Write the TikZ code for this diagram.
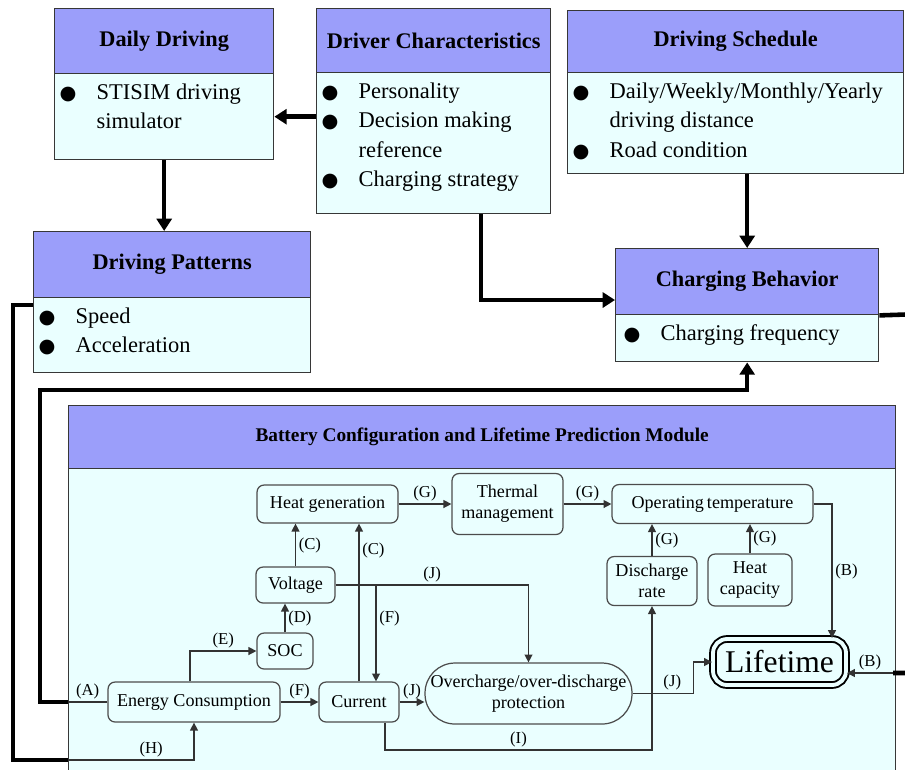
\documentclass[tikz,border=0pt]{standalone}
\usepackage{fontspec}
\setmainfont{Liberation Serif}
\newfontfamily\symfont{DejaVu Sans}
\usepackage{tikz}
\usetikzlibrary{arrows.meta}
\definecolor{headblue}{RGB}{155,158,250}
\definecolor{bodycyan}{RGB}{234,255,255}
\definecolor{edgegray}{RGB}{55,55,55}
\newcommand{\bul}{\makebox[0.74cm][l]{\symfont\fontsize{11}{11}\selectfont ●}}
\newcommand{\ind}{\hspace*{0.74cm}}
\newcommand{\bodylist}[3]{\parbox[t][#2][t]{#1}{\fontsize{12.8}{16.7}\selectfont\rule{0pt}{14.7pt}#3}}

\begin{document}
\begin{tikzpicture}[x={(0.02cm,0)}, y={(0,-0.02cm)},
    headbox/.style={draw=edgegray, line width=0.8pt, fill=headblue, inner sep=0pt,
        font=\fontsize{12.7}{15}\selectfont\bfseries},
    bodybox/.style={draw=edgegray, line width=0.8pt, fill=bodycyan, inner xsep=0.1cm, inner ysep=0pt},
    blk/.style={draw=black!70, line width=0.7pt, fill=bodycyan, rounded corners=4pt, align=center,
        inner sep=1pt, font=\fontsize{10.3}{12}\selectfont},
    lbl/.style={font=\fontsize{9.5}{11}\selectfont, inner sep=1.5pt},
    wire/.style={draw=black!80, line width=0.75pt},
    arr/.style={wire, -{Triangle[length=4.5pt,width=4.5pt]}},
    fatline/.style={draw=black, line width=2.6pt},
    fat/.style={fatline, -{Triangle[length=7pt,width=8.5pt]}}]
    \useasboundingbox (0,0) rectangle (905,769);

    % Upper boxes
    \node[headbox, minimum width=4.38cm, minimum height=1.30cm, anchor=north west] (ddh) at (54,8) {Daily Driving};
    \node[bodybox, anchor=north west] (ddb) at (54,73) {\bodylist{4.18cm}{1.72cm}{\bul STISIM driving\\\ind simulator}};

    \node[headbox, minimum width=4.68cm, minimum height=1.28cm, anchor=north west] (dch) at (316,8) {Driver Characteristics};
    \node[bodybox, anchor=north west] (dcb) at (316,72) {\bodylist{4.48cm}{2.82cm}{\bul Personality\\\bul Decision making\\\ind reference\\\bul Charging strategy}};

    \node[headbox, minimum width=6.72cm, minimum height=1.24cm, anchor=north west] (dsh) at (567,10) {Driving Schedule};
    \node[bodybox, anchor=north west] (dsb) at (567,72) {\bodylist{6.52cm}{2.02cm}{\bul Daily/Weekly/Monthly/Yearly\\\ind driving distance\\\bul Road condition}};

    \node[headbox, minimum width=5.54cm, minimum height=1.32cm, anchor=north west] (dph) at (33,231) {Driving Patterns};
    \node[bodybox, anchor=north west] (dpb) at (33,297) {\bodylist{5.34cm}{1.5cm}{\bul Speed\\\bul Acceleration}};

    \node[headbox, minimum width=5.26cm, minimum height=1.32cm, anchor=north west] (cbh) at (615,248) {Charging Behavior};
    \node[bodybox, anchor=north west] (cbb) at (615,314) {\bodylist{5.06cm}{0.94cm}{\hspace*{0.06cm}\bul Charging frequency}};

    % Module
    \node[headbox, font=\fontsize{11}{13}\selectfont\bfseries, minimum width=16.54cm, minimum height=1.26cm, anchor=north west] (modh) at (68,405) {Battery Configuration and Lifetime Prediction Module};
    \node[bodybox, minimum width=16.54cm, minimum height=6.6cm, anchor=north west] (modb) at (68,468) {};

    \node[blk, minimum width=2.82cm, minimum height=0.76cm] (heat) at (327.5,504) {Heat generation};
    \node[blk, minimum width=2.22cm, minimum height=1.22cm] (thermal) at (507.5,504) {Thermal\\management};
    \node[blk, minimum width=4.02cm, minimum height=0.78cm] (optemp) at (712.5,504) {Operating\,temperature};
    \node[blk, minimum width=1.80cm, minimum height=0.98cm] (dis) at (652,581) {Discharge\\rate};
    \node[blk, minimum width=1.68cm, minimum height=1.04cm] (cap) at (750,580) {Heat\\capacity};
    \node[blk, minimum width=1.58cm, minimum height=0.72cm] (volt) at (295.5,585) {Voltage};
    \node[blk, minimum width=1.12cm, minimum height=0.72cm] (soc) at (285,651) {SOC};
    \node[blk, minimum width=3.44cm, minimum height=0.80cm] (energy) at (194,702) {Energy Consumption};
    \node[blk, minimum width=1.60cm, minimum height=0.80cm] (cur) at (359,702) {Current};
    \node[blk, minimum width=4.14cm, minimum height=1.22cm, rounded corners=0.6cm] (over) at (528.5,693.5) {Overcharge/over-discharge\\protection};
    \node[blk, minimum width=2.66cm, minimum height=0.92cm, font=\fontsize{18}{20}\selectfont,
        draw=black, line width=1.1pt, double=bodycyan, double distance=2.2pt, rounded corners=8pt] (life) at (779.5,662) {Lifetime};

    % Inner connectors
    \coordinate (bturn) at (832,504);
    \coordinate (fsplit) at (376,585);
    \coordinate (iturn) at (385,750);
    \coordinate (bin) at (893,673);
    \coordinate (aexit) at (68,702);
    \coordinate (hexit) at (68,760);
    \draw[arr] (heat.east) -- node[lbl, above] {(G)} (thermal.west);
    \draw[arr] (thermal.east) -- node[lbl, above] {(G)} (optemp.west);
    \draw[arr] (optemp.east) -- (bturn) -- node[lbl, right] {(B)} (bturn |- life.north);
    \draw[arr] (dis.north) -- node[lbl, right] {(G)} (dis.north |- optemp.south);
    \draw[arr] (cap.north) -- node[lbl, right] {(G)} (cap.north |- optemp.south);
    \draw[arr] (volt.north) -- node[lbl, right] {(C)} (volt.north |- heat.south);
    \draw[arr] (cur.north) -- node[lbl, right, pos=0.83] {(C)} (cur.north |- heat.south);
    \draw[arr] (soc.north) -- node[lbl, right] {(D)} (soc.north |- volt.south);
    \draw[arr] ([xshift=-0.08cm]energy.north) |- node[lbl, above, pos=0.75] {(E)} (soc.west);
    \draw[arr] (energy.east) -- node[lbl, above] {(F)} (cur.west);
    \draw[arr] (volt.east) -| node[lbl, above, pos=0.25] {(J)} (over.north);
    \draw[arr] (fsplit) -- node[lbl, right, pos=0.35] {(F)} (fsplit |- cur.north);
    \draw[arr] (cur.east) -- node[lbl, above] {(J)} (cur.east -| over.west);
    \draw[arr] (iturn |- cur.south) -- (iturn) -| node[lbl, above, pos=0.25] {(I)} (dis.south);
    \draw[arr] (over.east) -- node[lbl, above, pos=0.65] {(J)} ++(61,0) |- (life.west);
    \draw[arr] (bin) -- node[lbl, above] {(B)} (bin -| life.east);
    \draw[wire] (energy.west) -- node[lbl, above] {(A)} (aexit);
    \draw[arr] (hexit) -| node[lbl, above, pos=0.33] {(H)} (energy.south);

    % Thick connectors
    \coordinate (dcturn) at (481,300);
    \draw[fat] (dcb.west |- ddb.east) -- (ddb.east);
    \draw[fat] (ddb.south) -- (ddb.south |- dph.north);
    \draw[fat] (dcturn |- dcb.south) -- (dcturn) -- (dcturn -| cbh.west);
    \draw[fat] (cbh.north |- dsb.south) -- (cbh.north);
    \draw[fat] (aexit) -- (40,702) |- (cbb.south |- 0,390) -- (cbb.south);
    \draw[fatline] (dpb.west |- 0,305) -- (13,305) |- (hexit);
    \draw[fatline] (cbh.south east) -- (920,314) |- (bin);
\end{tikzpicture}
\end{document}
